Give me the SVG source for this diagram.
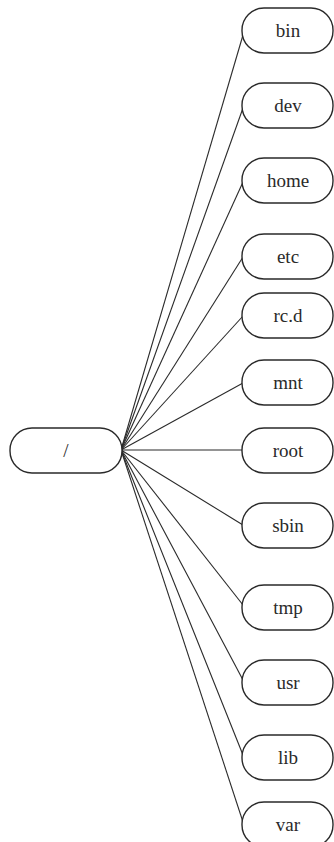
<svg xmlns="http://www.w3.org/2000/svg" width="334" height="842" viewBox="0 0 334 842">
<style>
.n rect{fill:#fff;stroke:#2a2a2a;stroke-width:1.4}
.n text{font-family:"Liberation Serif",serif;font-size:19px;fill:#2a2a2a;text-anchor:middle;dominant-baseline:central}
.c line{stroke:#2a2a2a;stroke-width:1.1}
</style>
<rect width="334" height="842" fill="#fff"/>
<g class="c" id="connectors">
<line x1="121" y1="450" x2="243" y2="35"/>
<line x1="121" y1="450" x2="243" y2="108"/>
<line x1="121" y1="450" x2="243" y2="182"/>
<line x1="121" y1="450" x2="243" y2="257"/>
<line x1="121" y1="450" x2="243" y2="316"/>
<line x1="121" y1="450" x2="243" y2="383"/>
<line x1="121" y1="450" x2="243" y2="450"/>
<line x1="121" y1="450" x2="243" y2="525"/>
<line x1="121" y1="450" x2="243" y2="605"/>
<line x1="121" y1="450" x2="243" y2="680"/>
<line x1="121" y1="450" x2="243" y2="755"/>
<line x1="121" y1="450" x2="243" y2="822"/>
</g>
<g class="n" id="n-root-slash"><rect x="10" y="428" width="112" height="45" rx="22"/><text x="66" y="450">/</text></g>
<g class="n" id="n-bin"><rect x="242" y="8" width="91" height="45" rx="22"/><text x="288" y="30">bin</text></g>
<g class="n" id="n-dev"><rect x="242" y="83" width="91" height="45" rx="22"/><text x="288" y="105">dev</text></g>
<g class="n" id="n-home"><rect x="242" y="158" width="91" height="45" rx="22"/><text x="288" y="180">home</text></g>
<g class="n" id="n-etc"><rect x="242" y="234" width="91" height="45" rx="22"/><text x="288" y="256">etc</text></g>
<g class="n" id="n-rcd"><rect x="242" y="293" width="91" height="45" rx="22"/><text x="288" y="315">rc.d</text></g>
<g class="n" id="n-mnt"><rect x="242" y="360" width="91" height="45" rx="22"/><text x="288" y="382">mnt</text></g>
<g class="n" id="n-root"><rect x="242" y="428" width="91" height="45" rx="22"/><text x="288" y="450">root</text></g>
<g class="n" id="n-sbin"><rect x="242" y="503" width="91" height="45" rx="22"/><text x="288" y="525">sbin</text></g>
<g class="n" id="n-tmp"><rect x="242" y="585" width="91" height="45" rx="22"/><text x="288" y="607">tmp</text></g>
<g class="n" id="n-usr"><rect x="242" y="660" width="91" height="45" rx="22"/><text x="288" y="682">usr</text></g>
<g class="n" id="n-lib"><rect x="242" y="735" width="91" height="45" rx="22"/><text x="288" y="757">lib</text></g>
<g class="n" id="n-var"><rect x="242" y="802" width="91" height="45" rx="22"/><text x="288" y="824">var</text></g>
</svg>
